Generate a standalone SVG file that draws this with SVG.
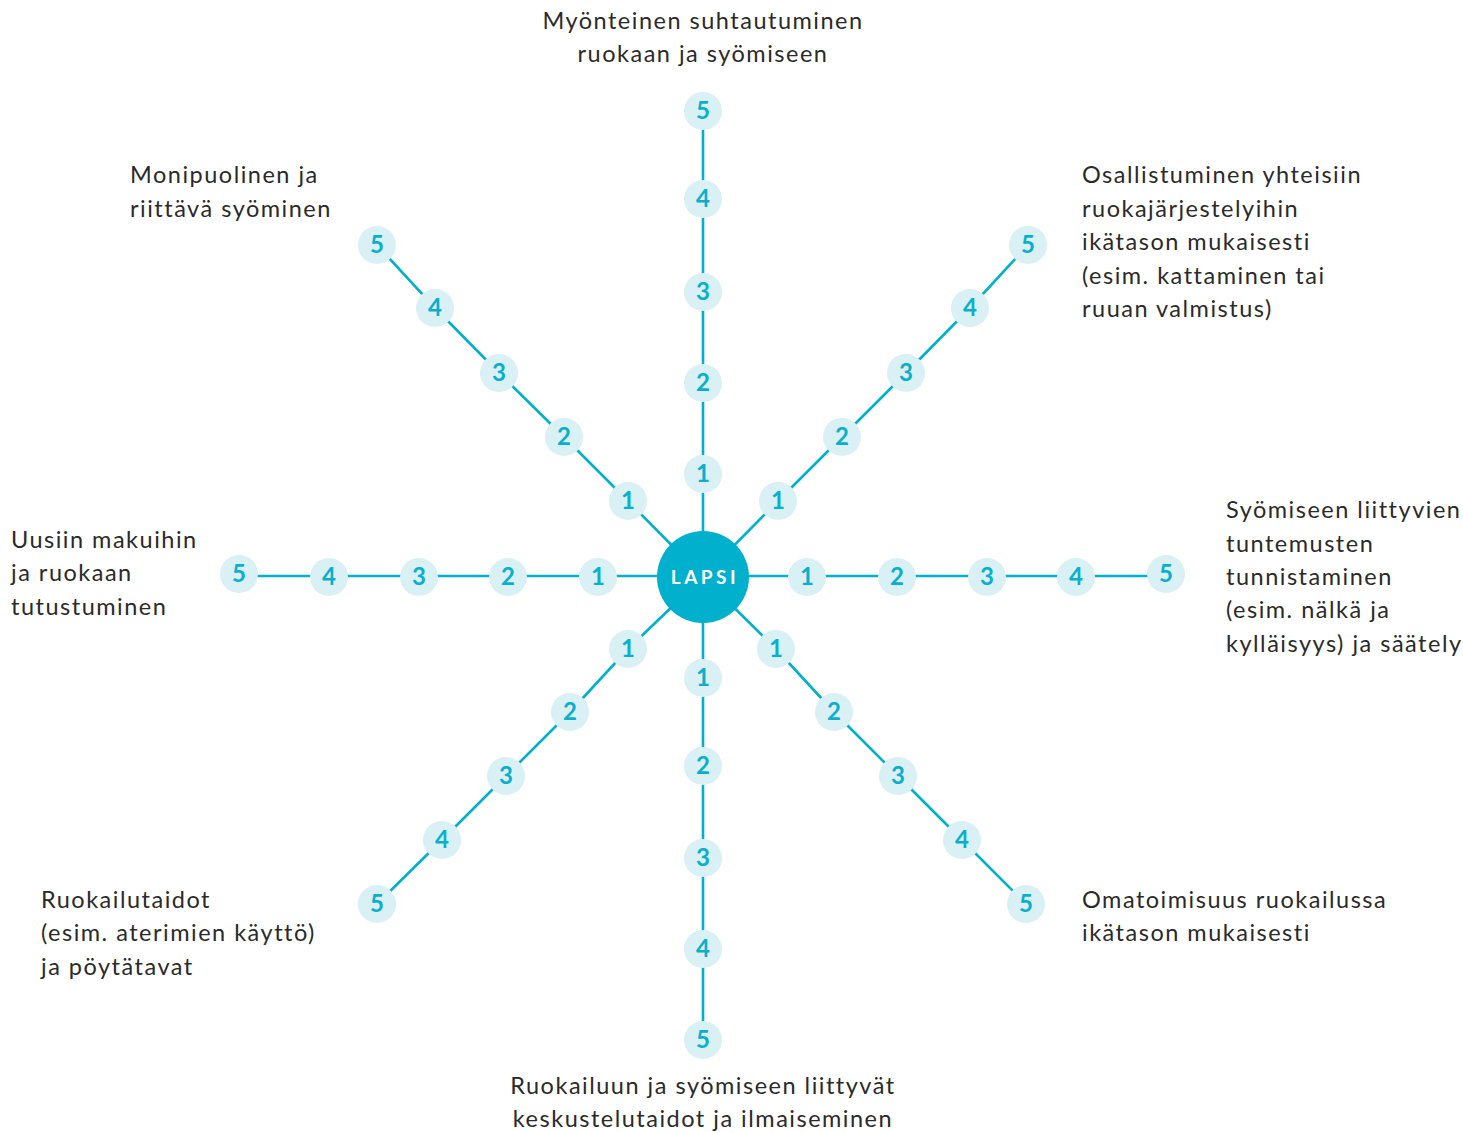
<svg xmlns="http://www.w3.org/2000/svg" width="1463" height="1133" viewBox="0 0 1463 1133">
<style>
.bg{fill:#ffffff}
.sp{fill:none;stroke:#00b0cc;stroke-width:2.6}
.n circle{fill:#d9f0f5}
.n text{font-family:Lato,"Open Sans",sans-serif;font-weight:700;font-size:24px;fill:#0aafcc;text-anchor:middle}
.lbl{font-family:Lato,"Noto Sans",sans-serif;font-size:23.5px;fill:#2a2a2a;letter-spacing:1.5px}
.ctr{text-anchor:middle}
</style>
<rect class="bg" x="0" y="0" width="1463" height="1133"/>
<g id="connectors">
<polyline class="sp" points="703,577 703,474 703,383 703,292 703,199 703,111"/>
<polyline class="sp" points="703,577 703,678 703,766 703,858 703,949 703,1040"/>
<polyline class="sp" points="703,576 598,576 508,576 419,576 329,576 239,576"/>
<polyline class="sp" points="703,576 807,576 897,576 987,576 1076,576 1166,576"/>
<polyline class="sp" points="703,577 628,501 564,437 499,373 435,308 377,245"/>
<polyline class="sp" points="703,577 778,501 842,437 906,373 970,308 1028,245"/>
<polyline class="sp" points="703,577 628,649 570,712 506,776 442,840 377,904"/>
<polyline class="sp" points="703,577 776,649 834,712 898,776 962,840 1026,904"/>
</g>
<g id="lapsi">
<circle cx="703" cy="577" r="46" fill="#00b0cc"/>
<text x="705" y="584" font-family="Lato,'Open Sans',sans-serif" font-weight="700" font-size="19" fill="#ffffff" text-anchor="middle" letter-spacing="3.5">LAPSI</text>
</g>
<g id="n-top" class="n">
<circle cx="703" cy="474" r="19"/><text x="703" y="482">1</text>
<circle cx="703" cy="383" r="19"/><text x="703" y="391">2</text>
<circle cx="703" cy="292" r="19"/><text x="703" y="300">3</text>
<circle cx="703" cy="199" r="19"/><text x="703" y="207">4</text>
<circle cx="703" cy="111" r="19"/><text x="703" y="119">5</text>
</g>
<g id="n-bottom" class="n">
<circle cx="703" cy="678" r="19"/><text x="703" y="686">1</text>
<circle cx="703" cy="766" r="19"/><text x="703" y="774">2</text>
<circle cx="703" cy="858" r="19"/><text x="703" y="866">3</text>
<circle cx="703" cy="949" r="19"/><text x="703" y="957">4</text>
<circle cx="703" cy="1040" r="19"/><text x="703" y="1048">5</text>
</g>
<g id="n-left" class="n">
<circle cx="598" cy="577" r="19"/><text x="598" y="585">1</text>
<circle cx="508" cy="577" r="19"/><text x="508" y="585">2</text>
<circle cx="419" cy="577" r="19"/><text x="419" y="585">3</text>
<circle cx="329" cy="577" r="19"/><text x="329" y="585">4</text>
<circle cx="239" cy="574" r="19"/><text x="239" y="582">5</text>
</g>
<g id="n-right" class="n">
<circle cx="807" cy="577" r="19"/><text x="807" y="585">1</text>
<circle cx="897" cy="577" r="19"/><text x="897" y="585">2</text>
<circle cx="987" cy="577" r="19"/><text x="987" y="585">3</text>
<circle cx="1076" cy="577" r="19"/><text x="1076" y="585">4</text>
<circle cx="1166" cy="574" r="19"/><text x="1166" y="582">5</text>
</g>
<g id="n-nw" class="n">
<circle cx="628" cy="501" r="19"/><text x="628" y="509">1</text>
<circle cx="564" cy="437" r="19"/><text x="564" y="445">2</text>
<circle cx="499" cy="373" r="19"/><text x="499" y="381">3</text>
<circle cx="435" cy="308" r="19"/><text x="435" y="316">4</text>
<circle cx="377" cy="245" r="19"/><text x="377" y="253">5</text>
</g>
<g id="n-ne" class="n">
<circle cx="778" cy="501" r="19"/><text x="778" y="509">1</text>
<circle cx="842" cy="437" r="19"/><text x="842" y="445">2</text>
<circle cx="906" cy="373" r="19"/><text x="906" y="381">3</text>
<circle cx="970" cy="308" r="19"/><text x="970" y="316">4</text>
<circle cx="1028" cy="245" r="19"/><text x="1028" y="253">5</text>
</g>
<g id="n-sw" class="n">
<circle cx="628" cy="649" r="19"/><text x="628" y="657">1</text>
<circle cx="570" cy="712" r="19"/><text x="570" y="720">2</text>
<circle cx="506" cy="776" r="19"/><text x="506" y="784">3</text>
<circle cx="442" cy="840" r="19"/><text x="442" y="848">4</text>
<circle cx="377" cy="904" r="19"/><text x="377" y="912">5</text>
</g>
<g id="n-se" class="n">
<circle cx="776" cy="649" r="19"/><text x="776" y="657">1</text>
<circle cx="834" cy="712" r="19"/><text x="834" y="720">2</text>
<circle cx="898" cy="776" r="19"/><text x="898" y="784">3</text>
<circle cx="962" cy="840" r="19"/><text x="962" y="848">4</text>
<circle cx="1026" cy="904" r="19"/><text x="1026" y="912">5</text>
</g>
<g id="labels">
<text class="lbl ctr" x="703" y="29">Myönteinen suhtautuminen</text>
<text class="lbl ctr" x="703" y="62">ruokaan ja syömiseen</text>
<text class="lbl" x="130" y="183">Monipuolinen ja</text>
<text class="lbl" x="130" y="217">riittävä syöminen</text>
<text class="lbl" x="1082" y="183">Osallistuminen yhteisiin</text>
<text class="lbl" x="1082" y="217">ruokajärjestelyihin</text>
<text class="lbl" x="1082" y="250">ikätason mukaisesti</text>
<text class="lbl" x="1082" y="284">(esim. kattaminen tai</text>
<text class="lbl" x="1082" y="317">ruuan valmistus)</text>
<text class="lbl" x="11" y="548">Uusiin makuihin</text>
<text class="lbl" x="11" y="581">ja ruokaan</text>
<text class="lbl" x="11" y="615">tutustuminen</text>
<text class="lbl" x="1226" y="518">Syömiseen liittyvien</text>
<text class="lbl" x="1226" y="552">tuntemusten</text>
<text class="lbl" x="1226" y="585">tunnistaminen</text>
<text class="lbl" x="1226" y="618">(esim. nälkä ja</text>
<text class="lbl" x="1226" y="652">kylläisyys) ja säätely</text>
<text class="lbl" x="41" y="908">Ruokailutaidot</text>
<text class="lbl" x="41" y="941">(esim. aterimien käyttö)</text>
<text class="lbl" x="41" y="975">ja pöytätavat</text>
<text class="lbl" x="1082" y="908">Omatoimisuus ruokailussa</text>
<text class="lbl" x="1082" y="941">ikätason mukaisesti</text>
<text class="lbl ctr" x="703" y="1094">Ruokailuun ja syömiseen liittyvät</text>
<text class="lbl ctr" x="703" y="1127">keskustelutaidot ja ilmaiseminen</text>
</g>
</svg>
